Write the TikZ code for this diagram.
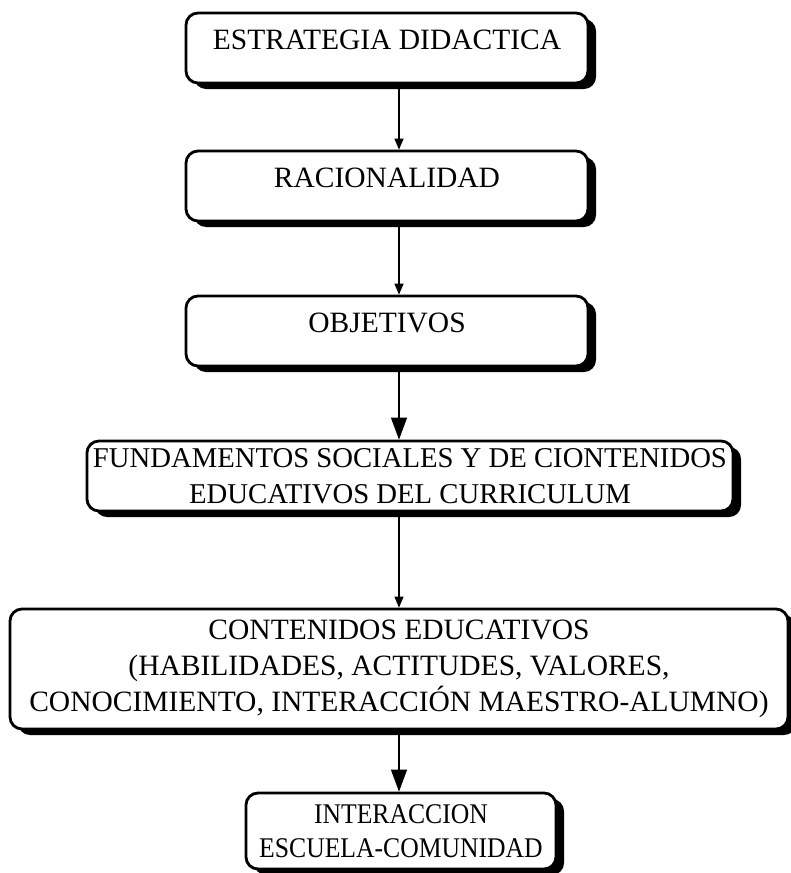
\documentclass[tikz,border=0pt]{standalone}
\usepackage{fontspec}
\setmainfont{Liberation Serif}
\newfontfamily\angosta[FakeStretch=0.9]{Liberation Serif}
\usetikzlibrary{arrows.meta,shadows}
\tikzset{
    paso/.style = {
        draw,
        line width=2.8pt,
        rounded corners=12pt,
        fill=white,
        align=center,
        inner xsep=6pt,
        font=\fontsize{29.5}{36}\selectfont,
        drop shadow={shadow xshift=8pt, shadow yshift=-6pt, fill=black, opacity=1},
        },
    paso alto/.style = {
        minimum width=402pt,
        inner ysep=12pt,
        text height=24pt,
        text depth=22pt,
        },
    flecha/.style = {
        line width=1.3pt,
        -{Triangle[length=11pt, width=9pt]},
        },
    flecha grande/.style = {
        line width=1.3pt,
        -{Triangle[length=22pt, width=16pt]},
        },
}
\begin{document}
\begin{tikzpicture}[x=1pt, y=-1pt]
    \useasboundingbox (0,0) rectangle (791,873);
    \coordinate (eje) at (399,0);

    \node[paso, paso alto] (estrategia) at (387,48) {ESTRATEGIA DIDACTICA};
    \node[paso, paso alto] (racionalidad) at (387,186) {RACIONALIDAD};
    \node[paso, paso alto] (objetivos) at (387,331) {OBJETIVOS};
    \node[paso, minimum width=630pt, minimum height=70pt, font=\fontsize{28.7}{36}\selectfont] (fundamentos) at (410,476)
        {FUNDAMENTOS SOCIALES Y DE CIONTENIDOS\\EDUCATIVOS DEL CURRICULUM};
    \node[paso, minimum width=778pt, minimum height=120pt] (contenidos) at (399,669)
        {CONTENIDOS EDUCATIVOS\\(HABILIDADES, ACTITUDES, VALORES,\\CONOCIMIENTO, INTERACCIÓN MAESTRO-ALUMNO)};
    \node[paso, minimum width=310pt, minimum height=76pt, font=\angosta\fontsize{28.5}{34}\selectfont] (interaccion) at (401,831)
        {INTERACCION\\ESCUELA-COMUNIDAD};

    \draw[flecha] (estrategia.south -| eje) -- (racionalidad.north -| eje);
    \draw[flecha] (racionalidad.south -| eje) -- (objetivos.north -| eje);
    \draw[flecha grande] (objetivos.south -| eje) -- (fundamentos.north -| eje);
    \draw[flecha] (fundamentos.south -| eje) -- (contenidos.north -| eje);
    \draw[flecha grande] (contenidos.south -| eje) -- (interaccion.north -| eje);
\end{tikzpicture}
\end{document}
